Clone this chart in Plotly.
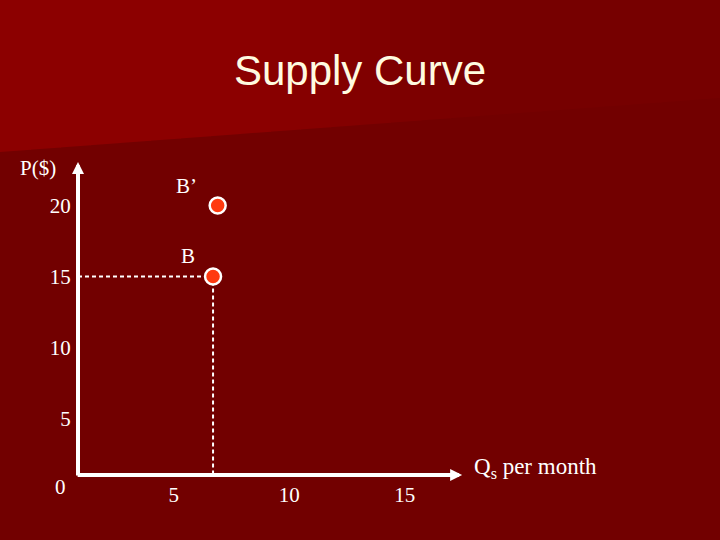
import plotly.graph_objects as go

# ---- data ----
y_ticks = [5, 10, 15, 20]
x_ticks = [5, 10, 15]
point_labels = ["B", "B’"]
point_q = [6.7, 6.9]
point_p = [15, 20]

# axis geometry (data units)
x_start, x_max = 0.85, 18.48
y_start, y_max = 1.0, 23.99
x_arrow_end = 17.49
y_arrow_end = 23.07

W, H = 720, 540
ML, MR, MT, MB = 78, 235, 149, 65
PW, PH = W - ML - MR, H - MT - MB

def pp(px, py):
    """pixel -> paper coords"""
    return (px - ML) / PW, (H - MB - py) / PH

fig = go.Figure()

# dashed guide lines for B
fig.add_trace(go.Scatter(x=[x_start, point_q[0], point_q[0]], y=[point_p[0], point_p[0], y_start],
                         mode="lines", line=dict(color="white", width=2, dash="4px,3px"),
                         hoverinfo="skip", showlegend=False, cliponaxis=False))
# points
fig.add_trace(go.Scatter(x=point_q, y=point_p, mode="markers",
                         marker=dict(size=16, color="#FF3A10", line=dict(color="white", width=2.5)),
                         showlegend=False, cliponaxis=False))

shapes = []
# background gradient
top_boundary_left, top_boundary_right = 152, 98
n = 24
c0 = (0x8C, 0x00, 0x00)
c1 = (0x76, 0x00, 0x00)
for i in range(n):
    xa = W * i / n
    xb = W * (i + 1) / n + 1
    t = min(max((xa - 230) / 240, 0), 1)
    col = tuple(int(round(c0[k] + (c1[k] - c0[k]) * t)) for k in range(3))
    ya = top_boundary_left + (top_boundary_right - top_boundary_left) * xa / W
    yb = top_boundary_left + (top_boundary_right - top_boundary_left) * xb / W
    pts = [pp(xa, -1), pp(xb, -1), pp(xb, yb), pp(xa, ya)]
    path = "M " + " L ".join(f"{a},{b}" for a, b in pts) + " Z"
    shapes.append(dict(type="path", xref="paper", yref="paper", path=path,
                       fillcolor="rgb(%d,%d,%d)" % col, line=dict(width=0), layer="below"))

annotations = []
# axes with arrows
annotations.append(dict(x=x_arrow_end, y=y_start, ax=x_start - 0.08, ay=y_start, xref="x", yref="y",
                        axref="x", ayref="y", showarrow=True, arrowhead=2, arrowwidth=4, arrowsize=0.6,
                        arrowcolor="white", text=""))
annotations.append(dict(x=x_start, y=y_arrow_end, ax=x_start, ay=y_start - 0.14, xref="x", yref="y",
                        axref="x", ayref="y", showarrow=True, arrowhead=2, arrowwidth=4, arrowsize=0.6,
                        arrowcolor="white", text=""))

serif = dict(family="Liberation Serif, Times New Roman, serif", size=21, color="white")
annotations.append(dict(x=x_start, y=y_start, text="0", showarrow=False, xanchor="center", yanchor="middle",
                        xshift=-18, yshift=-12, font=serif))
annotations.append(dict(x=x_start, y=y_arrow_end, text="P($)", showarrow=False, xanchor="right",
                        yanchor="middle", xshift=-20, yshift=-6, font=serif))
annotations.append(dict(x=x_arrow_end, y=y_start, text="Q<sub>s</sub> per month", showarrow=False,
                        xanchor="left", yanchor="middle", xshift=10, yshift=7, font=dict(serif, size=23)))
for lab, q, p in zip(point_labels, point_q, point_p):
    annotations.append(dict(x=q, y=p, text=lab, showarrow=False, xanchor="center", yanchor="middle",
                            xshift=-31 if lab == "B’" else -25, yshift=20, font=serif))

fig.update_layout(
    width=W, height=H,
    margin=dict(l=ML, r=MR, t=MT, b=MB),
    paper_bgcolor="#720000", plot_bgcolor="rgba(0,0,0,0)",
    title=dict(text="Supply Curve", x=360 / W, xref="container", xanchor="center", y=1 - 70 / H,
               yanchor="middle", font=dict(family="Liberation Sans, Arial, sans-serif", size=42, color="#FFFBE0")),
    shapes=shapes, annotations=annotations,
    xaxis=dict(range=[x_start, x_max], tickvals=x_ticks, showgrid=False, zeroline=False, showline=False,
               ticks="outside", ticklen=1, tickcolor="rgba(0,0,0,0)", tickfont=serif, fixedrange=True),
    yaxis=dict(range=[y_start, y_max], tickvals=y_ticks, showgrid=False, zeroline=False, showline=False,
               ticks="outside", ticklen=2, tickcolor="rgba(0,0,0,0)", tickfont=serif, fixedrange=True),
    showlegend=False,
)

fig.write_html("out.html", config={"displayModeBar": False},
               post_script="document.body.style.margin='0';document.body.style.background='#720000';")
